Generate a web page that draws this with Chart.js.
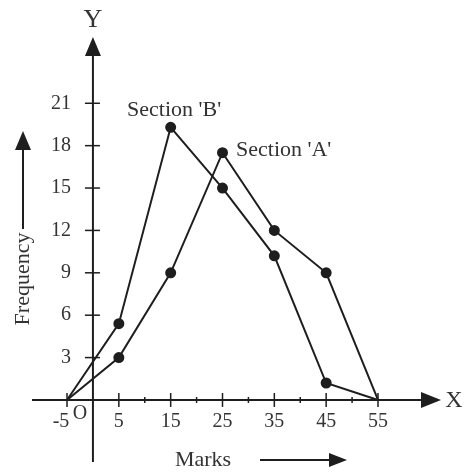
<!DOCTYPE html>
<html>
<head>
<meta charset="utf-8">
<script src="https://cdn.jsdelivr.net/npm/chart.js@4/dist/chart.umd.min.js"></script>
<style>
    body { margin: 0; background: #fff; }
    canvas { display: block; }
</style>
</head>
<body>
<canvas id="polygonChart" width="466" height="473"></canvas>
<script>
// marks (class marks) and frequencies
const marks = [-5, 5, 15, 25, 35, 45, 55];
const sectionA = [0, 3, 9, 17.5, 12, 9, 0];
const sectionB = [0, 5.4, 19.3, 15, 10.2, 1.2, 0];
const yTicks = [3, 6, 9, 12, 15, 18, 21];
const xTicks = [-5, 5, 15, 25, 35, 45, 55];
const xMinorTicks = [10, 20, 30, 40, 50];

const ink = "#1e1e1e";
const textInk = "#333";

function toPoints(values) {
    return marks.map((m, i) => ({ x: m, y: values[i] }));
}

function arrowHead(ctx, x, y, dir, len, half) {
    ctx.beginPath();
    if (dir === "up") {
        ctx.moveTo(x, y);
        ctx.lineTo(x - half, y + len);
        ctx.lineTo(x + half, y + len);
    } else {
        ctx.moveTo(x, y);
        ctx.lineTo(x - len, y - half);
        ctx.lineTo(x - len, y + half);
    }
    ctx.closePath();
    ctx.fill();
}

// hand-drawn looking axes through the origin
const axesPlugin = {
    id: "axesPlugin",
    beforeDatasetsDraw(chart) {
        const ctx = chart.ctx;
        const xs = chart.scales.x;
        const ys = chart.scales.y;
        const x0 = xs.getPixelForValue(0);
        const y0 = ys.getPixelForValue(0);

        ctx.save();
        ctx.strokeStyle = ink;
        ctx.fillStyle = ink;
        ctx.lineWidth = 2;

        // x axis
        ctx.beginPath();
        ctx.moveTo(32, y0);
        ctx.lineTo(425, y0);
        ctx.stroke();
        arrowHead(ctx, 441, y0, "right", 20, 8);

        // y axis
        ctx.beginPath();
        ctx.moveTo(x0, 462);
        ctx.lineTo(x0, 52);
        ctx.stroke();
        arrowHead(ctx, x0, 37, "up", 19, 8);

        // y ticks
        ctx.lineWidth = 1.5;
        yTicks.forEach(v => {
            const py = ys.getPixelForValue(v);
            ctx.beginPath();
            ctx.moveTo(x0 - 8, py);
            ctx.lineTo(x0 + 7, py);
            ctx.stroke();
        });

        // x ticks
        xTicks.forEach(v => {
            const px = xs.getPixelForValue(v);
            ctx.beginPath();
            ctx.moveTo(px, y0 - 7);
            ctx.lineTo(px, y0 + 7);
            ctx.stroke();
        });
        xMinorTicks.forEach(v => {
            const px = xs.getPixelForValue(v);
            ctx.beginPath();
            ctx.moveTo(px, y0 - 3);
            ctx.lineTo(px, y0 + 3);
            ctx.stroke();
        });

        // tick labels
        ctx.fillStyle = textInk;
        ctx.font = "20px 'Liberation Serif', serif";
        ctx.textAlign = "right";
        ctx.textBaseline = "middle";
        yTicks.forEach(v => {
            ctx.fillText(String(v), x0 - 22, ys.getPixelForValue(v));
        });

        ctx.textAlign = "center";
        ctx.textBaseline = "middle";
        xTicks.forEach(v => {
            let px = xs.getPixelForValue(v);
            if (v < 0) px -= 6;
            ctx.fillText(String(v), px, y0 + 22);
        });
        ctx.fillText("O", x0 - 13, y0 + 14);

        // axis letters
        ctx.font = "26px 'Liberation Serif', serif";
        ctx.fillText("Y", x0, 20);
        ctx.font = "24px 'Liberation Serif', serif";
        ctx.fillText("X", 454, y0 + 1);

        // Marks label with arrow
        ctx.font = "22px 'Liberation Serif', serif";
        ctx.fillText("Marks", 203, 460);
        ctx.fillStyle = ink;
        ctx.lineWidth = 2;
        ctx.beginPath();
        ctx.moveTo(260, 460);
        ctx.lineTo(332, 460);
        ctx.stroke();
        arrowHead(ctx, 347, 460, "right", 18, 7);

        // Frequency label with arrow
        ctx.save();
        ctx.translate(23, 279);
        ctx.rotate(-Math.PI / 2);
        ctx.fillStyle = textInk;
        ctx.font = "22px 'Liberation Serif', serif";
        ctx.fillText("Frequency", 0, 0);
        ctx.restore();
        ctx.beginPath();
        ctx.moveTo(23, 229);
        ctx.lineTo(23, 148);
        ctx.stroke();
        arrowHead(ctx, 23, 131, "up", 19, 8);

        // series labels
        ctx.fillStyle = textInk;
        ctx.font = "22px 'Liberation Serif', serif";
        ctx.textAlign = "left";
        ctx.fillText("Section 'B'", 127, 110);
        ctx.fillText("Section 'A'", 236, 150);

        ctx.restore();
    }
};

new Chart(document.getElementById("polygonChart"), {
    type: "line",
    data: {
        datasets: [
            {
                label: "Section 'A'",
                data: toPoints(sectionA),
                borderColor: ink,
                backgroundColor: ink,
                borderWidth: 2,
                pointRadius: [0, 4.5, 4.5, 4.5, 4.5, 4.5, 0],
                tension: 0
            },
            {
                label: "Section 'B'",
                data: toPoints(sectionB),
                borderColor: ink,
                backgroundColor: ink,
                borderWidth: 2,
                pointRadius: [0, 4.5, 4.5, 4.5, 4.5, 4.5, 0],
                tension: 0
            }
        ]
    },
    options: {
        responsive: false,
        animation: false,
        devicePixelRatio: 1,
        layout: { padding: 0 },
        plugins: {
            legend: { display: false },
            tooltip: { enabled: false }
        },
        scales: {
            x: { type: "linear", min: -17.93, max: 71.98, display: false },
            y: { type: "linear", min: -5.17, max: 28.31, display: false }
        }
    },
    plugins: [axesPlugin]
});
</script>
</body>
</html>
